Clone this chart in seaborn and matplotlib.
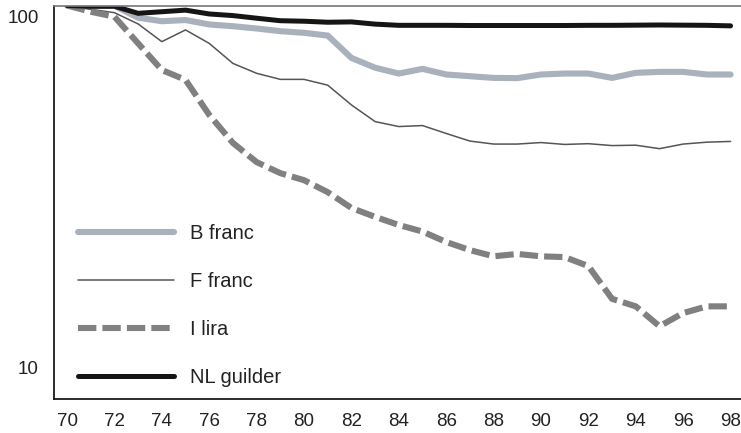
import matplotlib
matplotlib.use("Agg")
import matplotlib.pyplot as plt
import matplotlib.transforms as mtransforms
import numpy as np
import pandas as pd
import seaborn as sns


years = list(range(70, 99))

b_franc = [100, 99.5, 99.8, 92.3, 90.2, 90.9, 88.3, 87.3, 86.0, 84.5, 83.6, 82.1,
           70.9, 66.5, 64.0, 66.0, 63.6, 62.9, 62.2, 62.1, 63.6, 64.0, 64.0, 62.2,
           64.3, 64.7, 64.7, 63.6, 63.6]
f_franc = [100, 97.5, 95.4, 88.6, 78.9, 85.2, 78.0, 68.4, 64.1, 61.6, 61.6, 59.3,
           52.1, 46.7, 45.2, 45.5, 43.2, 41.1, 40.3, 40.3, 40.7, 40.2, 40.4, 39.9,
           40.0, 39.1, 40.3, 40.8, 41.0]
i_lira = [100, 96.0, 92.9, 78.0, 65.5, 61.4, 48.8, 40.6, 35.8, 33.3, 31.8, 29.4,
          26.5, 25.0, 23.7, 22.7, 21.2, 20.1, 19.3, 19.6, 19.3, 19.2, 18.1, 14.6,
          13.9, 12.2, 13.3, 13.9, 13.9]
nl_guilder = [100, 99.5, 99.5, 95.0, 96.0, 97.0, 94.6, 93.6, 92.0, 90.5, 90.2, 89.6,
              89.8, 88.5, 87.8, 87.8, 87.8, 87.7, 87.7, 87.7, 87.7, 87.7, 87.8, 87.8,
              87.9, 88.0, 87.9, 87.8, 87.5]

series_names = ["B franc", "F franc", "I lira", "NL guilder"]
x_ticks = list(range(70, 99, 2))
y_ticks = [10, 100]

sns.set_theme(style="white")
plt.rcParams["font.family"] = ["Liberation Sans", "DejaVu Sans"]

styles = {
    "B franc": dict(color="#a9b1bd", linewidth=4.4, linestyle="-"),
    "F franc": dict(color="#555555", linewidth=1.1, linestyle="-"),
    "I lira": dict(color="#808080", linewidth=4.4, linestyle=(0, (3.0, 1.0))),
    "NL guilder": dict(color="#151515", linewidth=3.6, linestyle="-"),
}

df = pd.DataFrame({"year": years, "B franc": b_franc, "F franc": f_franc,
                   "I lira": i_lira, "NL guilder": nl_guilder})

fig = plt.figure(figsize=(7.41, 4.33), dpi=100)
ax = fig.add_axes([54 / 741, 1 - 399 / 433, 1 - 54 / 741, (399 - 5.5) / 433])

for name in series_names:
    sns.lineplot(data=df, x="year", y=name, ax=ax, label=name,
                 solid_joinstyle="miter", dash_capstyle="butt", **styles[name])

ax.set_yscale("log")
ax.set_xlim(69.45, 98.44)
ax.set_ylim(7.57, 100)
ax.set_xticks(x_ticks)
ax.set_xticklabels([str(t) for t in x_ticks])
ax.set_yticks(y_ticks)
ax.set_yticklabels([str(t) for t in y_ticks])
ax.yaxis.set_minor_locator(matplotlib.ticker.NullLocator())
ax.set_xlabel("")
ax.set_ylabel("")
ax.tick_params(axis="both", length=0, labelsize=13.5, colors="#222222")
ax.tick_params(axis="x", pad=10)
ax.tick_params(axis="y", pad=11)

# y labels sit a little below their tick positions in the original
for lab in ax.get_yticklabels():
    lab.set_transform(lab.get_transform() + mtransforms.ScaledTranslation(0, -11 / 100, fig.dpi_scale_trans))

for side in ["left", "bottom"]:
    ax.spines[side].set_color("#1a1a1a")
    ax.spines[side].set_linewidth(1.3)
ax.spines["top"].set_color("#777777")
ax.spines["top"].set_linewidth(1.2)
ax.spines["right"].set_visible(False)
ax.grid(False)

leg = ax.legend(loc="upper left", bbox_to_anchor=(0.035, 0.444), frameon=False,
                fontsize=14.5, handlelength=4.78, handletextpad=0.8,
                labelspacing=1.43, borderpad=0, borderaxespad=0)
for t in leg.get_texts():
    t.set_color("#222222")

fig.savefig("out.png", dpi=100)
